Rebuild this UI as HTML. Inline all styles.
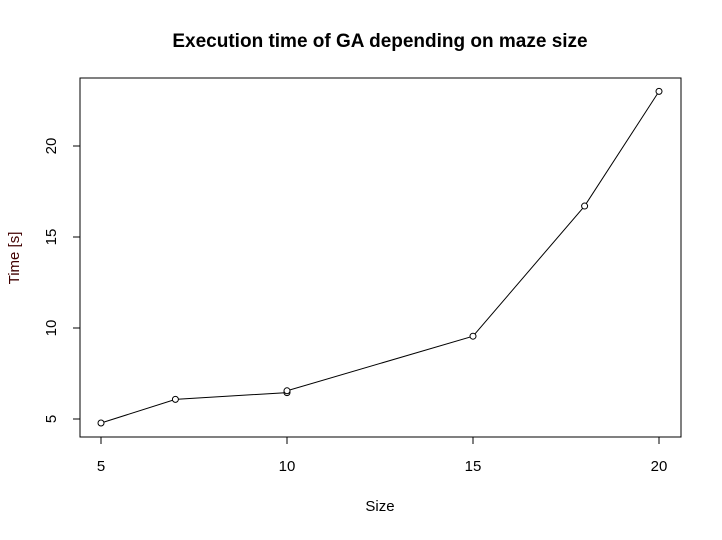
<!DOCTYPE html>
<html><head><meta charset="utf-8"><style>
body{margin:0;background:#fff}
svg text{font-family:"Liberation Sans",Arial,sans-serif}
</style></head><body>
<svg id="chart" width="722" height="535" xmlns="http://www.w3.org/2000/svg">
<rect width="722" height="535" fill="#fff"/>
<text x="380" y="47" text-anchor="middle" font-size="19" font-weight="bold">Execution time of GA depending on maze size</text>
<rect x="80" y="78" width="601" height="359" fill="none" stroke="#000"/>
<text x="380" y="511" text-anchor="middle" font-size="15">Size</text>
<text transform="translate(19,258) rotate(-90)" text-anchor="middle" font-size="15" fill="#400000">Time [s]</text>
<g id="axes"></g>
<g id="series"></g>
</svg>
<script>
const sizes=[5,7,10,10,15,18,20];
const times=[4.78,6.08,6.45,6.55,9.55,16.7,23.0];
const xTicks=[5,10,15,20];
const yTicks=[5,10,15,20];
const NS="http://www.w3.org/2000/svg";
const xs=v=>101+(v-5)*(558/15);
const ys=v=>419-(v-5)*(273/15);
const ax=document.getElementById('axes'),se=document.getElementById('series');
function mk(t,a,p){const e=document.createElementNS(NS,t);for(const k in a)e.setAttribute(k,a[k]);p.appendChild(e);return e;}
mk('line',{x1:xs(5),x2:xs(20),y1:437,y2:437,stroke:'#000'},ax);
for(const t of xTicks){
 const l=mk('line',{x1:xs(t),x2:xs(t),y1:437,y2:444,stroke:'#000'},ax);
 
 
 const tx=mk('text',{x:xs(t),y:471,'text-anchor':'middle','font-size':15},ax);tx.textContent=t;
 
 
}
mk('line',{x1:80,x2:80,y1:ys(5),y2:ys(20),stroke:'#000'},ax);
for(const t of yTicks){
 const l=mk('line',{x1:73,x2:80,y1:ys(t),y2:ys(t),stroke:'#000'},ax);
 
 
 const tx=mk('text',{transform:`translate(56,${ys(t)}) rotate(-90)`,'text-anchor':'middle','font-size':15},ax);tx.textContent=t;
 
 
}
const pl=mk('polyline',{points:sizes.map((s,i)=>xs(s)+','+ys(times[i])).join(' '),fill:'none',stroke:'#000'},se);


sizes.forEach((s,i)=>{
 const c=mk('circle',{cx:xs(s),cy:ys(times[i]),r:3,fill:'#fff',stroke:'#000'},se);
 
 
});
</script>
</body></html>
